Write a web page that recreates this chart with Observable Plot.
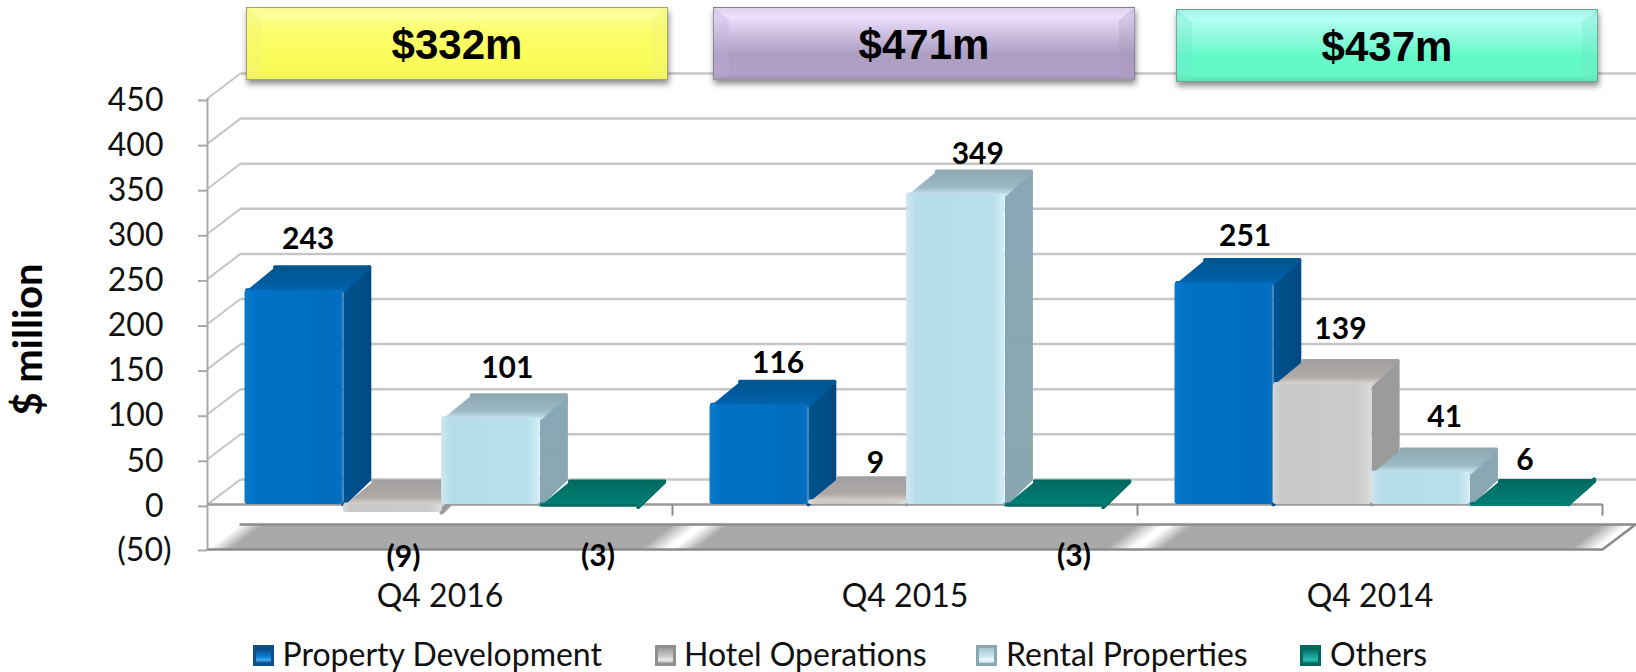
<!DOCTYPE html>
<html>
<head>
<meta charset="utf-8">
<script src="https://cdn.jsdelivr.net/npm/d3@7"></script>
<script src="https://cdn.jsdelivr.net/npm/@observablehq/plot@0.6"></script>
<style>
html,body{margin:0;padding:0;background:#fff;width:1636px;height:672px;overflow:hidden;}
#wrap{position:relative;width:1636px;height:672px;}
#chart svg{display:block;}
.box{position:absolute;box-sizing:border-box;display:flex;align-items:center;justify-content:center;
 font:bold 42px "Liberation Sans",Arial,sans-serif;color:#000;border:1px solid rgba(110,110,110,.6);box-shadow:1px 4px 6px rgba(0,0,0,.45);}
.box:before{content:"";position:absolute;inset:0;border-style:solid;border-width:12px 15px 3px 15px;box-sizing:border-box;}
.box span{position:relative;top:1px;}
.leg{position:absolute;top:632px;font:32px Lato,sans-serif;color:#111;white-space:nowrap;line-height:44px;}
.sw{position:absolute;top:645px;width:21px;height:21px;box-sizing:border-box;border-style:solid;border-width:3px;}
</style>
</head>
<body>
<div id="wrap"><div id="chart"></div></div>
<script>
// ---- chart values ----
const quarters = ["Q4 2016", "Q4 2015", "Q4 2014"];
const seriesNames = ["Property Development", "Hotel Operations", "Rental Properties", "Others"];
const propertyDevelopment = [243, 116, 251];
const hotelOperations = [-9, 9, 139];
const rentalProperties = [101, 349, 41];
const others = [-3, -3, 6];
const totals = ["$332m", "$471m", "$437m"];
const yTicks = [0, 50, 100, 150, 200, 250, 300, 350, 400, 450];

// ---- layout (not data) ----
const labelRise = [[46, 36, 42], [-45, 33, 50], [45, 35, 50], [-49, -49, 39]];
const labelNudge = [[0, 5, 7], [-3, 4, 4], [2.5, 8, 10], [-5, 6, -8]];
const W = 1636, H = 640, ML = 207, MR = 34, MT = 98, MB = 91;
const pxX = (W - ML - MR) / 3, pxY = (H - MT - MB) / 500;
const barStart = 37.5 / pxX, barW = 98.3 / pxX, depthX = 28 / pxX, depthY = 25 / pxY;
const insetX = 2 / pxX, insetY = 2 / pxY;
const wallX = 33 / pxX, wallY = 25 / pxY, wallEnd = (W - ML) / pxX;
const frontLift = 5.5;

const palette = [
  {front: "url(#blueF)", side: "url(#blueS)", top: "url(#blueT)"},
  {front: "url(#greyF)", side: "#9b9b9b", top: "url(#greyT)"},
  {front: "url(#cyanF)", side: "url(#cyanS)", top: "url(#cyanT)"},
  {front: "#00695f", side: "#00695f", top: "url(#tealT)"}
];
const allSeries = [propertyDevelopment, hotelOperations, rentalProperties, others];

const bars = [];
allSeries.forEach((vals, s) => vals.forEach((v, g) => {
  const x0 = g + barStart + s * barW, x1 = x0 + barW;
  const top = v > 0 ? Math.max(0, v - frontLift) : 0;
  const bottom = v > 0 ? 0 : v;
  bars.push({s, g, v, x0, x1, top, bottom});
}));
const poly = (id, pts) => pts.map(([x, y]) => ({id, x, y}));
const sideFace = b => poly(`s${b.s}${b.g}`, [
  [b.x1, b.bottom], [b.x1 + depthX - insetX, b.bottom + depthY],
  [b.x1 + depthX - insetX, b.top + depthY - insetY], [b.x1, b.top]]);
const topFace = b => poly(`t${b.s}${b.g}`, [
  [b.x0 + insetX, b.top], [b.x1, b.top],
  [b.x1 + depthX - insetX, b.top + depthY - insetY], [b.x0 + depthX + insetX, b.top + depthY - insetY]]);

const labels = bars.map(b => ({
  text: b.v < 0 ? `(${-b.v})` : String(b.v),
  x: b.x0 + (barW + depthX) / 2 + labelNudge[b.s][b.g] / pxX,
  y: b.v + labelRise[b.s][b.g] / pxY
}));

const faceMarks = [];
palette.forEach((c, s) => {
  const mine = bars.filter(b => b.s === s);
  const style = f => ({x: "x", y: "y", z: "id", fill: f, stroke: f, strokeWidth: 4, strokeLinejoin: "round"});
  const sides = mine.filter(b => b.top > b.bottom).flatMap(sideFace);
  if (sides.length) faceMarks.push(Plot.line(sides, style(c.side)));
  faceMarks.push(Plot.line(mine.flatMap(topFace), style(c.top)));
  faceMarks.push(Plot.rect(mine.filter(b => b.top > b.bottom), {x1: "x0", x2: "x1", y1: "bottom", y2: "top", fill: c.front, rx: 3}));
});

const slab = poly("slab", [[0, -50], [3, -50], [3 + wallX, -50 + wallY], [wallX, -50 + wallY]]);
const font = "Lato, sans-serif";

const chart = Plot.plot({
  width: W, height: H, marginLeft: ML, marginRight: MR, marginTop: MT, marginBottom: MB,
  style: {background: "#fff", fontFamily: font, color: "#111", overflow: "visible"},
  x: {domain: [0, 3], axis: null},
  y: {domain: [-50, 450], axis: null},
  marks: [
    // back wall and side wall
    Plot.link(yTicks, {x1: wallX, x2: wallEnd, y1: d => d + wallY, y2: d => d + wallY, stroke: "#c6c6c6", strokeWidth: 2.5}),
    Plot.link(yTicks, {x1: 0, x2: wallX, y1: d => d, y2: d => d + wallY, stroke: "#c6c6c6", strokeWidth: 2}),
    // floor slab
    Plot.line(slab, {x: "x", y: "y", z: "id", fill: "url(#slabG)", stroke: "#8a8a8a", strokeWidth: 2.5}),
    // axes
    Plot.ruleX([0], {y1: -50, y2: 450, stroke: "#a9a9a9", strokeWidth: 2}),
    Plot.axisY({ticks: yTicks, tickSize: 9, tickPadding: 35, fontSize: 32, stroke: "#a9a9a9", strokeWidth: 2, tickFormat: d => d, label: null, dy: 2, color: "#111"}),
    Plot.axisY({ticks: [-50], tickSize: 9, tickPadding: 27, fontSize: 32, stroke: "#a9a9a9", strokeWidth: 2, tickFormat: d => `(${-d})`, label: null, dy: 1, color: "#111"}),
    Plot.ruleY([0], {x1: 0, x2: 3, stroke: "#999", strokeWidth: 2.5}),
    Plot.ruleX([1, 2, 3], {y1: 0, y2: -13, stroke: "#8c8c8c", strokeWidth: 2}),
    ...faceMarks,
    Plot.text(labels, {x: "x", y: "y", text: "text", fontSize: 30, fontWeight: "bold", fill: "#000"}),
    Plot.axisX({ticks: [0.5, 1.5, 2.5], tickFormat: d => quarters[Math.floor(d)], tickSize: 0, tickPadding: 35, fontSize: 32, label: null, color: "#111"}),
    Plot.text(["$ million"], {x: () => (29 - ML) / pxX, y: () => (H - MB - 339) / pxY - 50, rotate: -90, fontSize: 40, fontWeight: "bold", fill: "#000"})
  ]
});

// gradients used by the faces
const ns = d3.select(chart).insert("defs", ":first-child");
function grad(id, dir, stops, extra) {
  const g = ns.append("linearGradient").attr("id", id);
  const [a, b, c, d] = dir === "h" ? [0, 0, 1, 0] : [0, 0, 0, 1];
  g.attr("x1", a).attr("y1", b).attr("x2", c).attr("y2", d);
  if (extra) extra(g);
  stops.forEach(([o, col]) => g.append("stop").attr("offset", o).attr("stop-color", col));
}
grad("blueF", "h", [[0, "#0a79ce"], [.12, "#0072c6"], [.9, "#006dbe"], [1, "#0a70c4"]]);
grad("blueS", "h", [[0, "#00528f"], [1, "#004a84"]]);
grad("blueT", "v", [[0, "#00568f"], [.6, "#005a9e"], [1, "#0064ae"]]);
grad("greyF", "h", [[0, "#d8d8d8"], [.08, "#c8c8c8"], [.85, "#cacaca"], [1, "#dcdcdc"]]);
grad("greyT", "v", [[0, "#a2a0a0"], [.7, "#b0aaa8"], [1, "#dad6d2"]]);
grad("cyanF", "h", [[0, "#cfe7f0"], [.1, "#b6dcea"], [.88, "#b8dfec"], [1, "#d3eef6"]]);
grad("cyanS", "v", [[0, "#88a8b6"], [1, "#8aa6b0"]]);
grad("cyanT", "v", [[0, "#8ea9b2"], [.7, "#9db9c3"], [1, "#c8e4ee"]]);
grad("tealT", "v", [[0, "#006a60"], [1, "#007f75"]]);
const sx = chart.scale("x"), sy = chart.scale("y");
const ax = sx.apply(0), ay = sy.apply(-50), ux = sx.apply(1) - ax;
const wdx = sx.apply(wallX) - ax, wdy = ay - sy.apply(-50 + wallY);
const k = ux * wdy / (wdy * wdy + wdx * wdx);
grad("slabG", "h", [[0, "#ffffff"], [.05, "#a9a9a9"], [.93, "#a9a9a9"], [.985, "#ffffff"], [1, "#ffffff"]], g => g
  .attr("gradientUnits", "userSpaceOnUse").attr("spreadMethod", "repeat")
  .attr("x1", ax).attr("y1", ay).attr("x2", ax + k * wdy).attr("y2", ay + k * wdx));

const wrap = document.getElementById("wrap");
document.getElementById("chart").append(chart);

// total boxes above the chart
const boxStyles = [
  {left: 246, top: 7, w: 422, h: 73, bg: "linear-gradient(#f8fa88,#fdff8a 12%,#fbfd66 40%,#fbfd58 75%,#f4f65c)", bevel: ["#fcfdb8", "#eef07a", "#e6e85a", "#eef07a"]},
  {left: 713, top: 7, w: 422, h: 73, bg: "linear-gradient(#d8cce8,#ecdfff 12%,#c9bbdc 40%,#ac9ec2 65%,#b49fc8 90%,#a99bbd)", bevel: ["#efe3f8", "#a898bc", "#9c8db4", "#c0b0d8"]},
  {left: 1176, top: 9, w: 422, h: 73, bg: "linear-gradient(#9ceee0,#b4fff4 12%,#8cfbdc 40%,#62fbc8 65%,#66f8c6 90%,#5ce6b8)", bevel: ["#b4fff7", "#6fe6c8", "#58dcb4", "#6fe6c8"]}
];
boxStyles.forEach((b, i) => {
  const d = document.createElement("div");
  d.className = `box b${i}`;
  d.style.cssText = `left:${b.left}px;top:${b.top}px;width:${b.w}px;height:${b.h}px;background:${b.bg};`;
  const sp = document.createElement("span");
  sp.textContent = totals[i];
  d.append(sp);
  const st = document.createElement("style");
  st.textContent = `.b${i}:before{border-color:${b.bevel[0]} ${b.bevel[1]} ${b.bevel[2]} ${b.bevel[3]};opacity:.3}`;
  wrap.append(st, d);
});

// legend below the chart
const legendSwatches = [
  {x: 253, t: 282.5, c: "linear-gradient(#07467e,#0a7fd8 60%,#4aa6e6 80%,#07508e)", e: "#104f86"},
  {x: 655, t: 684, c: "linear-gradient(#9a9a9a,#cfcfcf 60%,#ececec 80%,#a8a8a8)", e: "#8f8f8f"},
  {x: 976, t: 1006, c: "linear-gradient(#a8c4d0,#cfeaf4 60%,#f0fbff 80%,#b4d4e0)", e: "#8aa6b0"},
  {x: 1300, t: 1330, c: "linear-gradient(#005f57,#1aa89c 60%,#35bdb2 80%,#00786e)", e: "#00695f"}
];
legendSwatches.forEach((l, i) => {
  const sw = document.createElement("div");
  sw.className = "sw";
  sw.style.cssText = `left:${l.x}px;background:${l.c};border-color:${l.e};`;
  const tx = document.createElement("div");
  tx.className = "leg";
  tx.style.left = l.t + "px";
  tx.textContent = seriesNames[i];
  wrap.append(sw, tx);
});
</script>
</body>
</html>
